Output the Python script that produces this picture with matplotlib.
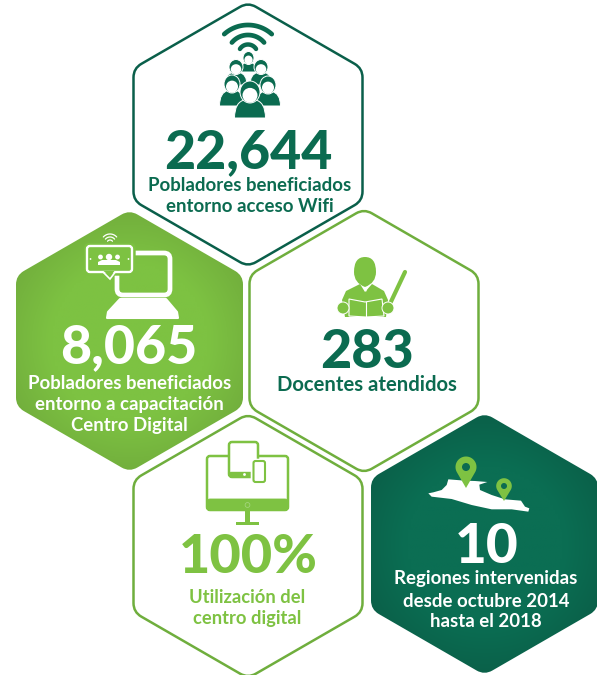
"""Infographic of hexagons with the digital centre results."""

import numpy as np
import matplotlib

matplotlib.use("Agg")
import matplotlib.pyplot as plt
from matplotlib.patches import Circle, Ellipse, FancyBboxPatch, PathPatch, Polygon
from matplotlib.path import Path

# values shown in the picture
numbers = ["22,644", "8,065", "283", "100%", "10"]
captions = [
    ["Pobladores beneficiados", "entorno acceso Wifi"],
    ["Pobladores beneficiados", "entorno a capacitación", "Centro Digital"],
    ["Docentes atendidos"],
    ["Utilización del", "centro digital"],
    ["Regiones intervenidas", "desde octubre 2014", "hasta el 2018"],
]

# layout, in pixels of the reference
hex_centers = [(248, 134.5), (129.5, 341), (364, 341), (248, 546), (484.5, 544)]
hex_half_widths = [114.5, 113.5, 114.5, 114.5, 113.5]
number_spots = [(248.5, 168), (129, 363), (367, 368), (248.5, 573), (487, 563)]
caption_spots = [
    (249.5, [191, 212]),
    (129.5, [389, 410, 431]),
    (367, [391]),
    (247.5, [603, 624]),
    (486, [584, 607, 627]),
]
number_sizes = [38.6, 38.6, 38.8, 39, 39.5]
caption_sizes = [13.4, 13.4, 14.6, 13.2, 13.4]

DARK = "#0b6b50"
LIGHT = "#7ec242"
EDGE_LIGHT = "#6fae3d"
EDGE_DARK = "#0a5f4a"
WHITE = "white"


def hex_path(cx, cy, half_w, radius=9):
    """Pointy-top hexagon with rounded corners."""
    r = half_w / np.cos(np.pi / 6)
    angles = np.radians([-90, -30, 30, 90, 150, 210])
    pts = np.column_stack([cx + r * np.cos(angles), cy + r * np.sin(angles)])
    verts, codes = [], []
    n = len(pts)
    for i in range(n):
        p = pts[i]
        prev_dir = pts[i - 1] - p
        next_dir = pts[(i + 1) % n] - p
        a = p + prev_dir / np.linalg.norm(prev_dir) * radius
        b = p + next_dir / np.linalg.norm(next_dir) * radius
        verts.append(a)
        codes.append(Path.MOVETO if i == 0 else Path.LINETO)
        verts.extend([p, b])
        codes.extend([Path.CURVE3, Path.CURVE3])
    verts.append(verts[0])
    codes.append(Path.CLOSEPOLY)
    return Path(verts, codes)


def gradient_hex(ax, path, cx, cy, half_w, inner, outer):
    """Fill a hexagon with a soft radial gradient."""
    patch = PathPatch(path, fc="none", ec="none")
    ax.add_patch(patch)
    xx, yy = np.meshgrid(np.linspace(-1.25, 1.25, 120), np.linspace(-1.25, 1.25, 120))
    dist = np.clip(np.hypot(xx, yy) - 0.7, 0, 0.5) / 0.5
    c0, c1 = np.array(matplotlib.colors.to_rgb(inner)), np.array(matplotlib.colors.to_rgb(outer))
    img = c0 + (c1 - c0) * dist[..., None]
    s = half_w * 1.25
    im = ax.imshow(img, extent=(cx - s, cx + s, cy + s, cy - s), interpolation="bilinear", zorder=1)
    im.set_clip_path(patch)


def arc(ax, cx, cy, r, half_angle, color, lw):
    t = np.radians(np.linspace(-90 - half_angle, -90 + half_angle, 40))
    ax.plot(cx + r * np.cos(t), cy + r * np.sin(t), color=color, lw=lw, solid_capstyle="round", zorder=3)


def rbox(ax, x0, y0, x1, y1, pad, fc, ec, lw, z=3):
    ax.add_patch(FancyBboxPatch((x0 + pad, y0 + pad), x1 - x0 - 2 * pad, y1 - y0 - 2 * pad,
                                boxstyle=f"round,pad={pad}", fc=fc, ec=ec, lw=lw, zorder=z))


def person(ax, cx, head_y, rx, ry, half_w, bottom, z):
    """Bust with a white face, dark hair and a white outline."""
    top = head_y + ry * 0.7
    verts = [(cx - half_w, bottom), (cx - half_w, top + 2), (cx - half_w * 0.3, top),
             (cx + half_w * 0.3, top), (cx + half_w, top + 2), (cx + half_w, bottom), (cx - half_w, bottom)]
    codes = [Path.MOVETO, Path.CURVE3, Path.CURVE3, Path.LINETO, Path.CURVE3, Path.CURVE3, Path.CLOSEPOLY]
    ax.add_patch(PathPatch(Path(verts, codes), fc=DARK, ec=WHITE, lw=0.7, zorder=z))
    ax.add_patch(Ellipse((cx, head_y), 2 * rx, 2 * ry, fc=DARK, ec=WHITE, lw=0.7, zorder=z))
    ax.add_patch(Ellipse((cx, head_y + ry * 0.3), 1.5 * rx, 1.35 * ry, fc=WHITE, ec="none", zorder=z))


def wifi_people_icon(ax):
    arc(ax, 248, 60.5, 35.5, 42, DARK, 3.4)
    arc(ax, 248, 56, 21, 50, DARK, 3.4)
    arc(ax, 248, 54, 9.5, 58, DARK, 3.2)
    person(ax, 248.5, 58, 5.5, 6.5, 9, 72, 3)
    person(ax, 236, 67, 7, 7.5, 11, 85, 4)
    person(ax, 261, 67, 7, 7.5, 11, 85, 4)
    person(ax, 232, 84, 8, 9, 12.5, 106, 5)
    person(ax, 268, 85, 8, 9, 12.5, 106, 5)
    person(ax, 250, 92, 10, 11, 15.5, 118, 6)


def screen_icon(ax):
    rbox(ax, 117, 253, 170, 295, 6, "none", WHITE, 3.4)
    verts = [(107, 318), (108, 312), (120, 299), (166, 299), (177, 312), (178, 318)]
    ax.add_patch(Polygon(verts, closed=True, fc=WHITE, ec=WHITE, lw=1.5, joinstyle="round", zorder=3))
    # phone covers the screen corner, with a gap around it
    rbox(ax, 85, 244, 135, 275, 4, "#7dc242", "#7dc242", 1, 4)
    ax.add_patch(Polygon([(102, 271), (116, 271), (110, 279)], closed=True, fc="#7dc242", ec=WHITE, lw=1.2, zorder=4))
    rbox(ax, 87, 246, 132, 272, 3, "#7dc242", WHITE, 1.7, 4)
    ax.add_patch(Polygon([(103.5, 271), (114.5, 271), (110, 276.5)], closed=True, fc="#7dc242", ec="none", zorder=5))
    for dx, r in [(100.5, 2.4), (109, 3.2), (117.5, 2.4)]:
        ax.add_patch(Circle((dx, 257), r, fc=WHITE, ec="none", zorder=5))
    ax.add_patch(Polygon([(98, 265), (98, 262), (102, 260), (116, 260), (120, 262), (120, 265)],
                         closed=True, fc=WHITE, ec="none", zorder=5))
    ax.add_patch(Circle((90.5, 259), 0.9, fc=WHITE, ec="none", zorder=5))
    ax.add_patch(Circle((128.5, 259), 0.9, fc=WHITE, ec="none", zorder=5))
    arc(ax, 110, 243, 9, 48, WHITE, 0.9)
    arc(ax, 110, 243, 6, 50, WHITE, 0.9)
    arc(ax, 110, 243, 3, 55, WHITE, 0.9)


def teacher_icon(ax):
    ax.add_patch(Polygon([(342, 300), (346, 291), (360, 284), (365, 292), (372, 284), (384, 291), (388, 300),
                          (386, 317), (345, 317)], closed=True, fc=LIGHT, ec="none", zorder=3))
    ax.add_patch(Polygon([(361, 278), (371, 278), (368, 287), (366, 292), (364, 287)], closed=True,
                         fc=WHITE, ec="none", zorder=4))
    verts = [(365, 257), (376, 257), (376, 272), (376, 283), (365, 287), (354, 283), (354, 272), (354, 257), (365, 257)]
    codes = [Path.MOVETO] + [Path.CURVE3] * 8
    ax.add_patch(PathPatch(Path(verts, codes), fc=LIGHT, ec="none", zorder=5))
    ax.add_patch(Polygon([(349, 299), (365, 302), (382, 299), (384, 316), (366, 317), (349, 316)], closed=True,
                         fc=LIGHT, ec=WHITE, lw=0.8, zorder=5))
    ax.plot([366, 366], [302, 317], color=WHITE, lw=0.8, zorder=6)
    ax.plot([388, 405], [308, 272], color=LIGHT, lw=3, solid_capstyle="round", zorder=4)
    ax.add_patch(Circle((343, 308), 6, fc=LIGHT, ec=WHITE, lw=0.7, zorder=6))
    ax.add_patch(Circle((388, 308), 6, fc=LIGHT, ec=WHITE, lw=0.7, zorder=6))


def devices_icon(ax):
    rbox(ax, 207, 456, 288, 510, 3, WHITE, LIGHT, 1.8)
    rbox(ax, 207, 499, 288, 510.5, 3, LIGHT, LIGHT, 0.6)
    ax.add_patch(Circle((247.5, 505), 2.4, fc="none", ec="#a9d886", lw=0.5, zorder=4))
    ax.add_patch(Polygon([(245, 511), (250, 511), (250, 522), (259, 522), (259, 525), (236, 525), (236, 522), (245, 522)],
                         closed=True, fc=LIGHT, ec="none", zorder=3))
    rbox(ax, 229, 442, 258, 477, 3, WHITE, LIGHT, 1.8, 4)
    ax.add_patch(Polygon([(230, 472), (257, 472), (257, 475), (230, 475)], closed=True, fc=LIGHT, ec=LIGHT, lw=1, zorder=5))
    ax.add_patch(Circle((244.5, 474.5), 1.4, fc=WHITE, ec="none", zorder=6))
    rbox(ax, 252.5, 460.5, 266, 482, 2, WHITE, WHITE, 2.6, 6)
    rbox(ax, 253.5, 461, 265, 482, 2, WHITE, LIGHT, 1.5, 7)


def pin(ax, cx, cy, r, tip_y, hole):
    t = np.radians(np.linspace(150, 390, 40))
    pts = np.column_stack([cx + r * np.cos(t), cy + r * np.sin(t)])
    pts = np.vstack([pts, [cx, tip_y]])
    # y axis points down, so the open side of the circle faces the tip
    ax.add_patch(Polygon(pts, closed=True, fc=LIGHT, ec="none", zorder=5))
    ax.add_patch(Circle((cx, cy), hole, fc="#0b6b50", ec="none", zorder=6))


def map_icon(ax):
    shape = [(190, 250), (205, 247), (230, 240), (245, 225), (250, 208), (300, 212), (330, 213), (367, 216),
             (343, 224), (345, 240), (380, 255), (420, 268), (468, 272), (480, 290), (493, 295), (490, 305),
             (440, 298), (380, 298), (320, 285), (260, 267), (200, 260)]
    pts = [(365 + x / 3, 410 + y / 3) for x, y in shape]
    ax.add_patch(Polygon(pts, closed=True, fc=WHITE, ec="none", zorder=3))
    pin(ax, 466, 467, 10.5, 488, 4)
    pin(ax, 504, 486, 7.8, 501, 3)


plt.rcParams["font.family"] = ["Lato", "DejaVu Sans"]
fig = plt.figure(figsize=(5.97, 6.75), dpi=100)
ax = fig.add_axes([0, 0, 1, 1])

styles = [
    (None, EDGE_DARK, DARK, DARK),
    (("#7dc242", "#71ad3c"), None, WHITE, WHITE),
    (None, EDGE_LIGHT, DARK, DARK),
    (None, EDGE_LIGHT, LIGHT, LIGHT),
    (("#0b6e53", "#0a5f48"), None, WHITE, WHITE),
]

for (cx, cy), half_w, (fill, edge, num_col, cap_col) in zip(hex_centers, hex_half_widths, styles):
    path = hex_path(cx, cy, half_w)
    if fill:
        gradient_hex(ax, path, cx, cy, half_w, fill[0], fill[1])
    else:
        ax.add_patch(PathPatch(path, fc=WHITE, ec=edge, lw=1.8, zorder=2))

for i, number in enumerate(numbers):
    x, y = number_spots[i]
    num_col = styles[i][2]
    ax.text(x, y, number, ha="center", va="baseline", fontsize=number_sizes[i], fontweight="black",
            color=num_col, zorder=8)
    cx, ys = caption_spots[i]
    for line, line_y in zip(captions[i], ys):
        ax.text(cx, line_y, line, ha="center", va="baseline", fontsize=caption_sizes[i], fontweight="bold",
                color=styles[i][3], zorder=8)

wifi_people_icon(ax)
screen_icon(ax)
teacher_icon(ax)
devices_icon(ax)
map_icon(ax)

ax.set_xlim(0, 597)
ax.set_ylim(675, 0)
ax.axis("off")
fig.savefig("out.png", dpi=100, facecolor="white")
plt.close(fig)
